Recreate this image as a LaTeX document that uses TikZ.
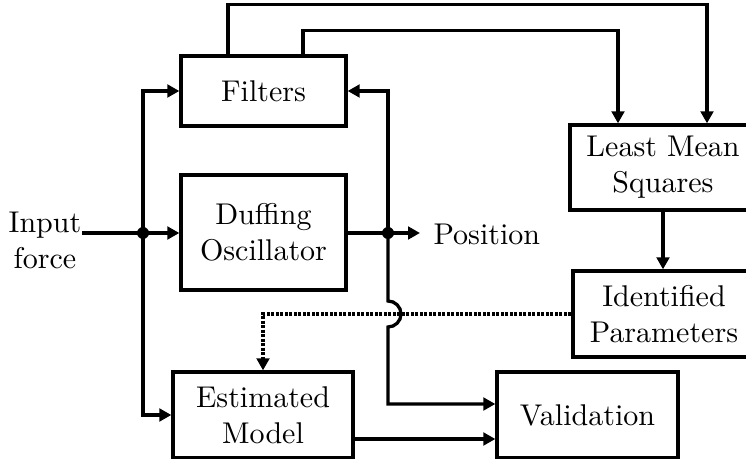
\documentclass[tikz,border=0pt]{standalone}
\usetikzlibrary{arrows.meta,calc}
\newcommand\pxu{0.3333pt}
\begin{document}
\begin{tikzpicture}[x=0.3333pt,y=-0.3333pt,
  box/.style={draw, line width=1.1pt, inner sep=0pt, align=center},
  conn/.style={line width=1.1pt},
  arr/.style={conn, -{Triangle[length=4pt,width=4.2pt]}},
  dotline/.style={line width=1.1pt, dash pattern=on 1pt off 0.5pt, -{Triangle[length=4pt,width=4.2pt]}},
  dotfill/.style={fill=black}]
\path[use as bounding box, fill=white] (0,0) rectangle (746,459);

% blocks
\node[box, minimum width=165*\pxu, minimum height=70*\pxu]  (filt)  at (263.5,91)    {Filters};
\node[box, minimum width=165*\pxu, minimum height=115*\pxu] (duff)  at (263.5,232.5) {Duffing\\Oscillator};
\node[box, minimum width=180*\pxu, minimum height=86*\pxu]  (est)   at (263,415)     {Estimated\\Model};
\node[box, minimum width=181*\pxu, minimum height=86*\pxu]  (val)   at (587.5,415)   {Validation};
\node[box, minimum width=186*\pxu, minimum height=85*\pxu]  (lms)   at (663,167.5)   {Least Mean\\Squares};
\node[box, minimum width=182*\pxu, minimum height=86*\pxu]  (ident) at (664,314)     {Identified\\Parameters};

% labels
\node[align=center, inner sep=0pt] (inp) at (45,240) {Input\\force};
\node[anchor=west, inner sep=0pt] (pos) at (433,234) {Position};

% junctions and free ends
\coordinate (j1) at (143,233);
\coordinate (j2) at (388,233);
\coordinate (pe) at (420,233);
\coordinate (vin1) at ($(val.west)+(0,-11)$);
\coordinate (vin2) at ($(val.west)+(0,24)$);
\coordinate (cross) at (j2 |- ident.west);

% input distribution
\draw[conn] (inp.east |- j1) -- (j1);
\draw[arr] (j1) -- (duff.west |- j1);
\draw[arr] (j1) |- (filt.west);
\draw[arr] (j1) |- (est.west);

% output
\draw[conn] (duff.east |- j2) -- (j2);
\draw[arr] (j2) -- (pe);
\draw[arr] (j2) |- (filt.east);
\draw[arr] (j2) -- ($(cross)+(0,-13)$) arc[start angle=-90, end angle=90, radius=13]
  -- (j2 |- vin1) -- (vin1);

% filters to LMS
\draw[arr] ($(filt.north)+(-35.5,0)$) -- ++(0,-50) -| ($(lms.north)+(44,0)$);
\draw[arr] ($(filt.north)+(39.5,0)$) -- ++(0,-24) -| ($(lms.north)+(-45,0)$);

% LMS to parameters
\draw[arr] (lms.south) -- (lms.south |- ident.north);

% parameters to estimated model
\draw[dotline] (ident.west) -| (est.north);

% estimated model to validation
\draw[arr] (est.east |- vin2) -- (vin2);

% junction dots
\fill[dotfill] (j1) circle[radius=6];
\fill[dotfill] (j2) circle[radius=6];
\end{tikzpicture}
\end{document}
